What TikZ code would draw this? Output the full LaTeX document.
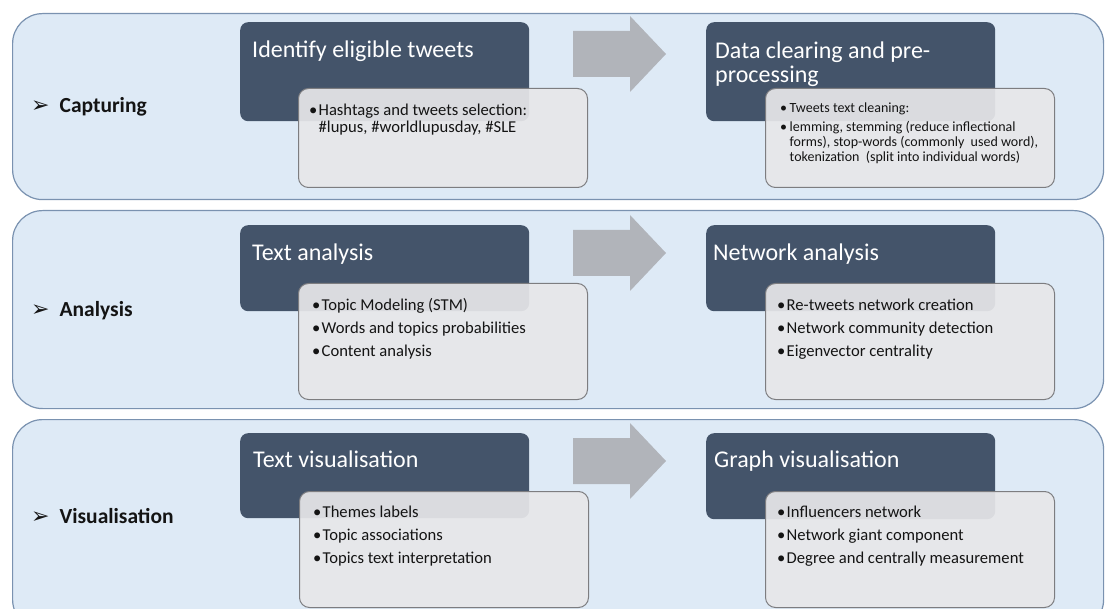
\documentclass[tikz,border=0pt]{standalone}
\usepackage{fontspec}
\setmainfont{Carlito}
\newfontfamily\symfont{DejaVu Sans}
\usetikzlibrary{positioning}

\definecolor{bandfill}{RGB}{222,234,246}
\definecolor{bandline}{RGB}{122,146,176}
\definecolor{slate}{RGB}{68,84,106}
\definecolor{paperfill}{RGB}{231,231,233}
\definecolor{paperline}{RGB}{125,125,128}
\definecolor{arrowgrey}{RGB}{177,180,186}
\definecolor{inktext}{RGB}{20,20,20}

\newcommand{\bul}{\makebox[9.5pt][l]{\textbullet}}
\newcommand{\hang}{\hspace*{9.5pt}}
\newcommand{\rowmark}{{\fontsize{22}{24}\symfont\bfseries ➢}\hspace{10pt}}

\begin{document}
\begin{tikzpicture}[x=1pt,y=-1pt,
  band/.style={draw=bandline, line width=1.2pt, fill=bandfill, rounded corners=30pt,
    anchor=north west, minimum width=1091pt, inner sep=0pt},
  stagebox/.style={fill=slate, rounded corners=8pt, anchor=north west,
    minimum width=289pt, inner sep=0pt},
  notebox/.style={draw=paperline, line width=1pt, fill=paperfill, fill opacity=0.92,
    rounded corners=10pt, anchor=north west, minimum width=289pt, minimum height=116pt, inner sep=0pt},
  stagetitle/.style={anchor=north west, text=white, align=left, inner sep=0pt,
    font=\fontsize{24}{24}\selectfont},
  notetext/.style={anchor=north west, text=inktext, align=left, inner sep=0pt,
    font=\fontsize{16.6}{23.3}\selectfont},
  rowlabel/.style={anchor=base west, text=inktext, inner sep=0pt,
    font=\fontsize{21.5}{25}\selectfont\bfseries}
]
\useasboundingbox (0,0) rectangle (1105,609);

% bands
\node (capband) [band, minimum height=186pt] at (12,13) {};
\node (anaband) [band, minimum height=198pt] at (12,210) {};
\node (visband) [band, minimum height=210pt] at (12,419) {};

\node (caplabel) [rowlabel] at (31,113) {\rowmark Capturing};
\node (analabel) [rowlabel] at (31,317) {\rowmark Analysis};
\node (vislabel) [rowlabel] at (31,523) {\rowmark Visualisation};

% grey block arrows between the stages
\foreach \tipy in {54,253,461}
  \fill[arrowgrey] (573,\tipy-23) -- (630,\tipy-23) -- (630,\tipy-38) -- (666,\tipy)
    -- (630,\tipy+38) -- (630,\tipy+23) -- (573,\tipy+23) -- cycle;

% capturing
\node (idtweets) [stagebox, minimum height=99pt] at (240,22) {};
\node (cleanprep) [stagebox, minimum height=99pt] at (706,22) {};
\node [stagetitle] at ([xshift=12pt,yshift=-13pt]idtweets.north west)
  {\rule{0pt}{22pt}Identify eligible tweets};
\node [stagetitle] at ([xshift=9pt,yshift=-14pt]cleanprep.north west)
  {\rule{0pt}{22pt}Data clearing and pre-\\processing};
\node (idnotes) [notebox, minimum height=99pt] at (298,88) {};
\node (cleannotes) [notebox, minimum height=99pt] at (765,88) {};
\node [notetext, font=\fontsize{16.6}{17}\selectfont] at ([xshift=11pt,yshift=-12pt]idnotes.north west)
  {\rule{0pt}{15pt}\bul Hashtags and tweets selection:\\ \hang\#lupus, \#worldlupusday, \#SLE};
\node [notetext, font=\fontsize{14}{15}\selectfont] at ([xshift=15pt,yshift=-11pt]cleannotes.north west)
  {\rule{0pt}{13pt}\bul Tweets text cleaning:\\[4pt]
   \bul lemming, stemming (reduce inflectional\\
   \hang forms), stop-words (commonly\ \ used word),\\
   \hang tokenization\ \ (split into individual words)};

% analysis
\node (textana) [stagebox, minimum height=86pt] at (240,225) {};
\node (netana) [stagebox, minimum height=86pt] at (706,225) {};
\node [stagetitle] at ([xshift=12pt,yshift=-13pt]textana.north west) {\rule{0pt}{22pt}Text analysis};
\node [stagetitle] at ([xshift=7pt,yshift=-13pt]netana.north west) {\rule{0pt}{22pt}Network analysis};
\node (textananotes) [notebox] at (298,283) {};
\node (netananotes) [notebox] at (765,283) {};
\node [notetext] at ([xshift=14pt,yshift=-11pt]textananotes.north west)
  {\rule{0pt}{16pt}\bul Topic Modeling (STM)\\ \bul Words and topics probabilities\\ \bul Content analysis};
\node [notetext] at ([xshift=12pt,yshift=-11pt]netananotes.north west)
  {\rule{0pt}{16pt}\bul Re-tweets network creation\\ \bul Network community detection\\ \bul Eigenvector centrality};

% visualisation
\node (textvis) [stagebox, minimum height=85pt] at (240,433) {};
\node (graphvis) [stagebox, minimum height=86pt] at (706,433) {};
\node [stagetitle] at ([xshift=13pt,yshift=-12pt]textvis.north west) {\rule{0pt}{22pt}Text visualisation};
\node [stagetitle] at ([xshift=8pt,yshift=-12pt]graphvis.north west) {\rule{0pt}{22pt}Graph visualisation};
\node (textvisnotes) [notebox] at (299,491) {};
\node (graphvisnotes) [notebox] at (765,491) {};
\node [notetext] at ([xshift=14pt,yshift=-10pt]textvisnotes.north west)
  {\rule{0pt}{16pt}\bul Themes labels\\ \bul Topic associations\\ \bul Topics text interpretation};
\node [notetext] at ([xshift=12pt,yshift=-10pt]graphvisnotes.north west)
  {\rule{0pt}{16pt}\bul Influencers network\\ \bul Network giant component\\ \bul Degree and centrally measurement};

\end{tikzpicture}
\end{document}
